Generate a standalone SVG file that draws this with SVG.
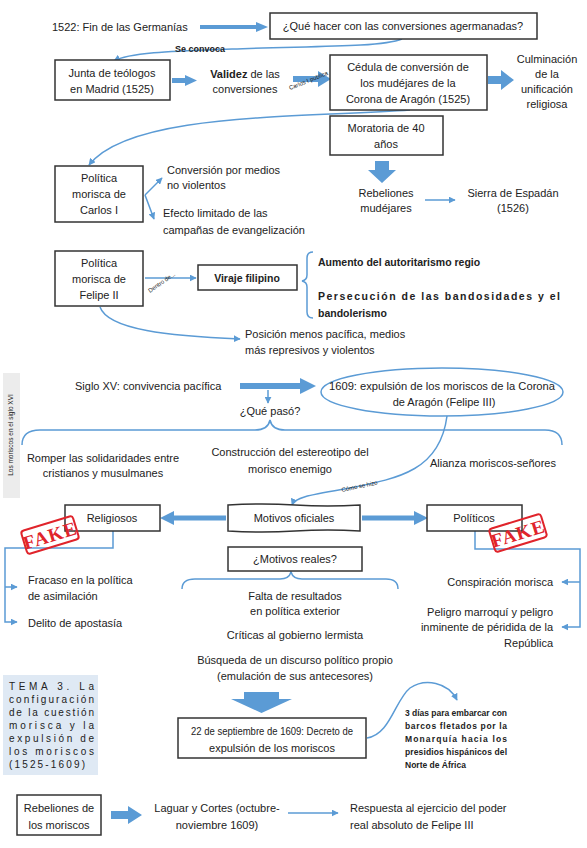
<svg xmlns="http://www.w3.org/2000/svg" width="587" height="848" viewBox="0 0 587 848">
<defs>
<style>
text{font-family:"Liberation Sans",Arial,sans-serif;font-size:11px;fill:#222}
.c{text-anchor:middle}
.e{text-anchor:end}
.b{font-weight:bold}
.box{fill:#fff;stroke:#333;stroke-width:1.5}
.thin{fill:none;stroke:#5b9bd5;stroke-width:1.5}
.thick{fill:#5b9bd5;stroke:none}
.sm{font-size:6px}
.fake{fill:none;stroke:#e0242b;stroke-width:2}
.fk{font-family:"Liberation Serif",serif;font-weight:bold;font-size:19px;fill:#e0242b;letter-spacing:1px}
</style>
<marker id="ah" viewBox="0 0 10 10" refX="9" refY="5" markerWidth="7" markerHeight="7" orient="auto" markerUnits="userSpaceOnUse">
<path d="M0,0 L10,5 L0,10 Z" fill="#5b9bd5"/>
</marker>
</defs>
<rect width="587" height="848" fill="#fff"/>

<!-- side label -->
<g id="side-label">
<rect x="3" y="373" width="17" height="125" fill="#ececec"/>
<text class="c sm" transform="translate(13,435) rotate(-90)" style="font-size:6.5px">Los moriscos en el siglo XVI</text>
</g>

<g id="connectors">
<!-- thick arrows -->
<path class="thick" d="M200,25 L256,25 L256,22 L268,27 L256,32 L256,29 L200,29 Z"/>
<path class="thick" d="M172,78 L185,78 L185,75 L197,80.5 L185,86 L185,83 L172,83 Z"/>
<path class="thick" d="M293,76 L318,76 L318,71 L331,79 L318,87 L318,82 L293,82 Z"/>
<path class="thick" d="M488,76 L501,76 L501,70 L514,80 L501,90 L501,84 L488,84 Z"/>
<path class="thick" d="M375,161 L389,161 L389,170 L396,170 L382,183 L368,170 L375,170 Z"/>
<path class="thick" d="M240,383 L300,383 L300,378 L316,386 L300,394 L300,389 L240,389 Z"/>
<path class="thick" d="M226,515.5 L174,515.5 L174,511 L160,518 L174,525 L174,520.5 L226,520.5 Z"/>
<path class="thick" d="M362,515.5 L414,515.5 L414,511 L428,518 L414,525 L414,520.5 L362,520.5 Z"/>
<path class="thick" d="M244,692 L279,692 L279,699 L292,699 L261.5,713 L231,699 L244,699 Z"/>
<path class="thick" d="M111,811 L128,811 L128,806 L142,815 L128,824 L128,819 L111,819 Z"/>
<!-- thin connectors -->
<path class="thin" d="M402,39 C380,48 300,46 232,49 C180,51 130,52 114,61" marker-end="url(#ah)"/>
<text x="200" y="52" class="c b" style="font-size:9px">Se convoca</text>
<text class="sm" transform="translate(290,90) rotate(-22)">Carlos I publica</text>
<path class="thin" d="M410,110 C300,118 130,112 89,165" marker-end="url(#ah)"/>
<path class="thin" d="M425,200 L455,200" marker-end="url(#ah)"/>
<path class="thin" d="M145,195 L162,178" marker-end="url(#ah)"/>
<path class="thin" d="M145,195 L154,219" marker-end="url(#ah)"/>
<path class="thin" d="M145,278 L196,278" marker-end="url(#ah)"/>
<text class="sm" transform="translate(150,293) rotate(-35)">Dentro de...</text>
<path class="thin" d="M313,252 Q307,252 307,258 L307,275 Q307,280 302,281 Q307,282 307,287 L307,312 Q307,318 313,318"/>
<path class="thin" d="M100,307 C108,330 170,336 240,339" marker-end="url(#ah)"/>
<path class="thin" d="M268,390 L268,403" marker-end="url(#ah)"/>
<path class="thin" d="M22,445 Q22,430 40,430 L255,430 Q268,430 270,420 Q272,430 285,430 L545,430 Q562,430 562,445"/>
<path class="thin" d="M447,416 C440,470 400,478 350,488 C310,495 295,497 292,505" marker-end="url(#ah)"/>
<text class="sm" transform="translate(342,492) rotate(-12)">Cómo se hizo</text>
<path class="thin" d="M113,531 L113,548 L5,548 L5,622 L17,622" marker-end="url(#ah)"/>
<path class="thin" d="M5,587 L17,587" marker-end="url(#ah)"/>
<path class="thin" d="M475,531 L475,549 L580,549 L580,627 L562,627" marker-end="url(#ah)"/>
<path class="thin" d="M580,582 L562,582" marker-end="url(#ah)"/>
<path class="thin" d="M182,589 Q182,579 195,579 L280,579 Q289,579 291,572 Q293,579 302,579 L386,579 Q398,579 398,589"/>
<path class="thin" d="M367,738 C390,735 395,700 410,688 C425,678 448,682 457,700" marker-end="url(#ah)"/>
<path class="thin" d="M288,813 L338,813" marker-end="url(#ah)"/>
</g>

<g id="n-germanias"><text x="52" y="31">1522: Fin de las Germanías</text></g>
<g id="n-que-hacer"><rect class="box" x="270" y="13" width="267" height="26"/><text x="403" y="30" class="c">¿Qué hacer con las conversiones agermanadas?</text></g>
<g id="n-junta"><rect class="box" x="55" y="60" width="115" height="40"/><text x="112" y="77" class="c">Junta de teólogos</text><text x="112" y="93" class="c">en Madrid (1525)</text></g>
<g id="n-validez"><text x="245" y="78" class="c"><tspan class="b">Validez</tspan> de las</text><text x="245" y="93" class="c">conversiones</text></g>
<g id="n-cedula"><rect class="box" x="330" y="55" width="157" height="55"/><text x="408" y="71" class="c">Cédula de conversión de</text><text x="408" y="87" class="c">los mudéjares de la</text><text x="408" y="103" class="c">Corona de Aragón (1525)</text></g>
<g id="n-culminacion"><text x="547" y="63" class="c">Culminación</text><text x="547" y="78" class="c">de la</text><text x="547" y="93" class="c">unificación</text><text x="547" y="108" class="c">religiosa</text></g>
<g id="n-moratoria"><rect class="box" x="330" y="116" width="113" height="39"/><text x="386" y="132" class="c">Moratoria de 40</text><text x="386" y="148" class="c">años</text></g>
<g id="n-rebeliones-mudejares"><text x="386" y="197" class="c">Rebeliones</text><text x="386" y="212" class="c">mudéjares</text></g>
<g id="n-espadan"><text x="513" y="197" class="c">Sierra de Espadán</text><text x="513" y="212" class="c">(1526)</text></g>
<g id="n-carlos"><rect class="box" x="55" y="166" width="88" height="56"/><text x="99" y="182" class="c">Política</text><text x="99" y="198" class="c">morisca de</text><text x="99" y="214" class="c">Carlos I</text></g>
<g id="n-conversion"><text x="167" y="174">Conversión por medios</text><text x="167" y="189">no violentos</text></g>
<g id="n-efecto"><text x="163" y="217">Efecto limitado de las</text><text x="163" y="234">campañas de evangelización</text></g>
<g id="n-felipe"><rect class="box" x="55" y="251" width="88" height="55"/><text x="99" y="267" class="c">Política</text><text x="99" y="283" class="c">morisca de</text><text x="99" y="299" class="c">Felipe II</text></g>
<g id="n-viraje"><rect class="box" x="198" y="265" width="99" height="25"/><text x="247" y="282" class="c b" style="font-size:10.5px">Viraje filipino</text></g>
<g id="n-aumento"><text x="318" y="266" class="b" style="font-size:10.5px">Aumento del autoritarismo regio</text></g>
<g id="n-persecucion"><text x="318" y="300" class="b" style="font-size:10.5px" textLength="242" lengthAdjust="spacing">Persecución de las bandosidades y el</text><text x="318" y="317" class="b" style="font-size:10.5px">bandolerismo</text></g>
<g id="n-posicion"><text x="245" y="338">Posición menos pacífica, medios</text><text x="245" y="354">más represivos y violentos</text></g>
<g id="n-siglo"><text x="75" y="390">Siglo XV: convivencia pacífica</text></g>
<g id="n-1609"><ellipse cx="442" cy="392" rx="121" ry="24" fill="#fff" stroke="#5b9bd5" stroke-width="1.5"/><text x="442" y="390" class="c" textLength="226" lengthAdjust="spacingAndGlyphs">1609: expulsión de los moriscos de la Corona</text><text x="444" y="406" class="c">de Aragón (Felipe III)</text></g>
<g id="n-que-paso"><text x="270" y="415" class="c">¿Qué pasó?</text></g>
<g id="n-romper"><text x="103" y="462" class="c">Romper las solidaridades entre</text><text x="103" y="477" class="c">cristianos y musulmanes</text></g>
<g id="n-construccion"><text x="290" y="456" class="c">Construcción del estereotipo del</text><text x="290" y="473" class="c">morisco enemigo</text></g>
<g id="n-alianza"><text x="493" y="467" class="c">Alianza moriscos-señores</text></g>
<g id="n-motivos-oficiales"><path class="box" d="M228,505 Q262,503 295,505 Q328,507 360,505 L360,531 Q328,529 295,531 Q262,533 228,531 Z"/><text x="294" y="522" class="c">Motivos oficiales</text></g>
<g id="n-religiosos"><rect class="box" x="65" y="505" width="95" height="26"/><text x="112" y="522" class="c">Religiosos</text></g>
<g id="n-politicos"><rect class="box" x="427" y="505" width="95" height="26"/><text x="474" y="522" class="c">Políticos</text></g>
<g id="fake-left" transform="translate(50,535) rotate(-17)"><rect class="fake" x="-27" y="-12" width="54" height="24" rx="3"/><text class="c fk" x="0" y="7">FAKE</text></g>
<g id="fake-right" transform="translate(518,533) rotate(-17)"><rect class="fake" x="-27" y="-12" width="54" height="24" rx="3"/><text class="c fk" x="0" y="7">FAKE</text></g>
<g id="n-motivos-reales"><rect class="box" x="228" y="547" width="134" height="24"/><text x="295" y="563" class="c">¿Motivos reales?</text></g>
<g id="n-fracaso"><text x="28" y="584">Fracaso en la política</text><text x="28" y="600">de asimilación</text></g>
<g id="n-delito"><text x="28" y="627">Delito de apostasía</text></g>
<g id="n-conspiracion"><text x="553" y="586" class="e">Conspiración morisca</text></g>
<g id="n-peligro"><text x="553" y="616" class="e">Peligro marroquí y peligro</text><text x="553" y="631" class="e">inminente de péridida de la</text><text x="553" y="647" class="e">República</text></g>
<g id="n-falta"><text x="295" y="600" class="c">Falta de resultados</text><text x="295" y="615" class="c">en política exterior</text></g>
<g id="n-criticas"><text x="295" y="639" class="c">Críticas al gobierno lermista</text></g>
<g id="n-busqueda"><text x="295" y="664" class="c">Búsqueda de un discurso político propio</text><text x="295" y="680" class="c">(emulación de sus antecesores)</text></g>
<g id="n-tema"><rect x="3" y="675" width="95" height="100" fill="#dfe9f4"/>
<text x="9" y="690" style="font-size:10px" textLength="85" lengthAdjust="spacing">TEMA 3. La</text>
<text x="9" y="703" style="font-size:10px" textLength="85" lengthAdjust="spacing">configuración</text>
<text x="9" y="716" style="font-size:10px" textLength="85" lengthAdjust="spacing">de la cuestión</text>
<text x="9" y="729" style="font-size:10px" textLength="85" lengthAdjust="spacing">morisca y la</text>
<text x="9" y="742" style="font-size:10px" textLength="85" lengthAdjust="spacing">expulsión de</text>
<text x="9" y="755" style="font-size:10px" textLength="85" lengthAdjust="spacing">los moriscos</text>
<text x="9" y="768" style="font-size:10px" textLength="76" lengthAdjust="spacing">(1525-1609)</text></g>
<g id="n-decreto"><rect class="box" x="178" y="718" width="188" height="40"/><text x="272" y="735" class="c" textLength="162" lengthAdjust="spacingAndGlyphs">22 de septiembre de 1609: Decreto de</text><text x="272" y="752" class="c">expulsión de los moriscos</text></g>
<g id="n-3dias">
<text x="405" y="716" class="b" style="font-size:8.5px" textLength="102" lengthAdjust="spacing">3 días para embarcar con</text>
<text x="405" y="729" class="b" style="font-size:8.5px" textLength="102" lengthAdjust="spacing">barcos fletados por la</text>
<text x="405" y="742" class="b" style="font-size:8.5px" textLength="102" lengthAdjust="spacing">Monarquía hacia los</text>
<text x="405" y="755" class="b" style="font-size:8.5px" textLength="102" lengthAdjust="spacing">presidios hispánicos del</text>
<text x="405" y="768" class="b" style="font-size:8.5px">Norte de África</text></g>
<g id="n-rebeliones-moriscos"><rect class="box" x="17" y="795" width="84" height="40"/><text x="59" y="812" class="c">Rebeliones de</text><text x="59" y="829" class="c">los moriscos</text></g>
<g id="n-laguar"><text x="217" y="812" class="c">Laguar y Cortes (octubre-</text><text x="217" y="829" class="c">noviembre 1609)</text></g>
<g id="n-respuesta"><text x="350" y="812">Respuesta al ejercicio del poder</text><text x="350" y="829">real absoluto de Felipe III</text></g>
</svg>
